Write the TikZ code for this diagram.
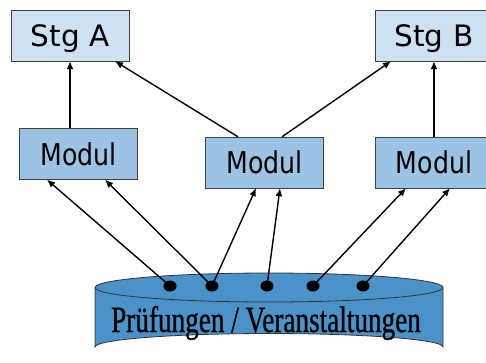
\documentclass[tikz,border=0pt]{standalone}
\usepackage{fontspec}
\usepackage{tikz}
\usetikzlibrary{shapes,arrows,positioning,calc,arrows.meta}
\newfontfamily\boxfont{DejaVu Sans}
\newfontfamily\dbfont[FakeBold=0.8]{Liberation Serif}
\definecolor{stgfill}{HTML}{CDE1F1}
\definecolor{modfill}{HTML}{9DC3E4}
\definecolor{dbfill}{HTML}{4B92C9}
\tikzset{
    stgbox/.style={draw=black!75, fill=stgfill, minimum width=118pt, minimum height=51pt, inner sep=0pt, text depth=0pt, font=\boxfont\fontsize{29.5}{30}\selectfont},
    modbox/.style={draw=black!75, fill=modfill, minimum width=118pt, minimum height=51pt, inner sep=0pt, text depth=0pt, font=\boxfont\fontsize{30}{31}\selectfont},
    pdot/.style={ellipse, fill=black, minimum width=13pt, minimum height=11pt, inner sep=0pt},
    link/.style={draw, line width=1.4pt, -{Latex[length=8pt,width=7pt]}}
}
\begin{document}
\begin{tikzpicture}[x=1pt,y=-1pt]
    \useasboundingbox (0,0) rectangle (486,362);

    % Datenbank
    \draw[fill=dbfill, draw=black!80, line width=0.8pt] (95,287.5) -- (95,347) arc[start angle=180, end angle=360, x radius=174, y radius=13.5] -- (443,287.5);
    \draw[fill=dbfill, draw=black!80, line width=0.8pt] (269,287.5) ellipse[x radius=174, y radius=14.5];
    \node[anchor=base] (db) at (266,332) {\dbfont\fontsize{37}{38}\selectfont\scalebox{0.735}[1]{Prüfungen / Veranstaltungen}};

    % Studiengaenge
    \node[stgbox] (stgA) at (70,35.5) {Stg A};
    \node[stgbox] (stgB) at (434,35.5) {Stg B};

    % Module
    \node[modbox] (modA) at (78.5,154) {\scalebox{0.84}[1]{Modul}};
    \node[modbox] (modB) at (264.5,162.5) {\scalebox{0.84}[1]{Modul}};
    \node[modbox] (modC) at (434,162.5) {\scalebox{0.84}[1]{Modul}};

    % Punkte
    \foreach \n/\x in {1/170, 2/212, 3/267, 4/313, 5/363}
        \node[pdot] (d\n) at (\x,286) {};

    % Module -> Studiengaenge
    \draw[link] ([xshift=-8.5pt]modA.north) -- (stgA.south);
    \draw[link] ([xshift=-26.5pt]modB.north) -- ([xshift=45pt]stgA.south);
    \draw[link] ([xshift=17.5pt]modB.north) -- ([xshift=-43pt]stgB.south);
    \draw[link] (modC.north) -- (stgB.south);

    % Pruefungen -> Module
    \draw[link] (d1.center) -- ([xshift=-31.5pt]modA.south);
    \draw[link] (d2.center) -- ([xshift=26.5pt]modA.south);
    \draw[link] (d2.center) -- ([xshift=-8.5pt]modB.south);
    \draw[link] (d3.center) -- ([xshift=15.5pt]modB.south);
    \draw[link] (d4.center) -- ([xshift=-28pt]modC.south);
    \draw[link] (d5.center) -- ([xshift=16pt]modC.south);
\end{tikzpicture}
\end{document}
